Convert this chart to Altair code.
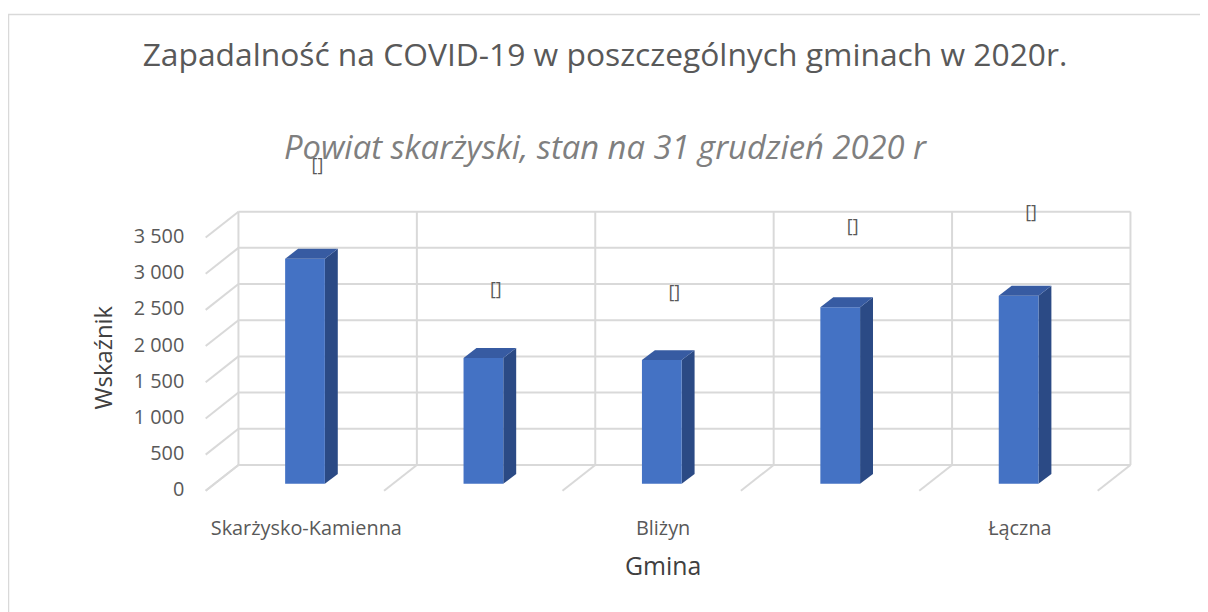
import json
import altair as alt
import pandas as pd

# ---- data ----
gminy = ["Skarżysko-Kamienna", "Suchedniów", "Bliżyn", "Skarżysko Kościelne", "Łączna"]
wskaznik = [3110, 1740, 1710, 2440, 2600]
etykiety = ["[]", "[]", "[]", "[]", "[]"]
y_ticks = [0, 500, 1000, 1500, 2000, 2500, 3000, 3500]
x_label_idx = [0, 2, 4]  # categories whose labels are visible

# ---- style constants ----
W, H = 898, 255
Y_MAX = 3500
N = len(gminy)
PX_X = W / N
PX_Y = H / Y_MAX
BAR_LEFT = 69 / PX_X
BAR_W = 40 / PX_X
DEPTH_X = 13 / PX_X
DEPTH_Y = 10 / PX_Y
WALL_DX, WALL_DY = 22, -19
FRONT_DX, FRONT_DY = -11, 7
LABEL_GAP_PX = 36          # label gap above bar grows with the 3D perspective
LABEL_GAP_SLOPE = 0.0183   # px of extra gap per unit of value

FRONT = "#4472C4"
SIDE = "#2B4A85"
TOP = "#375BA2"
GRID = "#D9D9D9"
FONT = "Open Sans"

# ---- tables built from the arrays ----
bars = pd.DataFrame({
    "gmina": gminy,
    "idx": range(N),
    "value": wskaznik,
    "label": etykiety,
})
bars["xl"] = bars["idx"] + BAR_LEFT
bars["xr"] = bars["xl"] + BAR_W
bars["xt"] = bars["xl"] + (BAR_W + DEPTH_X) / 2
bars["zero"] = 0
bars["label_y"] = bars["value"] + (LABEL_GAP_PX + LABEL_GAP_SLOPE * bars["value"]) / PX_Y

side_rows, top_rows = [], []
for _, r in bars.iterrows():
    side_rows.append({"g": r.gmina, "x": r.xr, "y": r.value, "y2": 0})
    side_rows.append({"g": r.gmina, "x": r.xr + DEPTH_X, "y": r.value + DEPTH_Y, "y2": DEPTH_Y})
    top_rows.append({"g": r.gmina, "y": r.value, "x": r.xl, "x2": r.xr})
    top_rows.append({"g": r.gmina, "y": r.value + DEPTH_Y, "x": r.xl + DEPTH_X, "x2": r.xr + DEPTH_X})
side = pd.DataFrame(side_rows)
top = pd.DataFrame(top_rows)

ticks = pd.DataFrame({"v": y_ticks})
bounds = pd.DataFrame({"b": list(range(N + 1))})

xs = alt.Scale(domain=[0, N], nice=False, zero=False)
ys = alt.Scale(domain=[0, Y_MAX], nice=False, zero=True)

x_expr = json.dumps(gminy, ensure_ascii=False) + "[floor(datum.value)]"

axis_x = alt.Axis(
    values=[i + 0.5 for i in x_label_idx], labelExpr=x_expr, title="Gmina",
    domain=False, ticks=False, tickSize=0, grid=False, labelPadding=35,
    labelFont=FONT, labelFontSize=20, labelColor="#595959", labelOverlap=False,
    labelLimit=400,
    titleFont=FONT, titleFontSize=25, titleFontWeight="normal", titleColor="#404040",
    titlePadding=16, labelAngle=0,
)
axis_y = alt.Axis(
    values=y_ticks,
    labelExpr="replace(format(datum.value, ','), ',', ' ')",
    title="Wskaźnik", domain=False, ticks=False, tickSize=0, grid=False,
    labelPadding=33, labelOffset=6, labelFont=FONT, labelFontSize=20, labelColor="#595959",
    labelOverlap=False,
    titleFont=FONT, titleFontSize=24, titleFontWeight="normal", titleColor="#404040",
    titlePadding=17,
)


def X(field, **kw):
    return alt.X(field, scale=xs, axis=axis_x, **kw)


def Y(field, **kw):
    return alt.Y(field, scale=ys, axis=axis_y, **kw)


rule_back = dict(color=GRID, strokeWidth=2, xOffset=WALL_DX, x2Offset=WALL_DX,
                 yOffset=WALL_DY, y2Offset=WALL_DY)
rule_diag = dict(color=GRID, strokeWidth=2, xOffset=FRONT_DX, yOffset=FRONT_DY,
                 x2Offset=WALL_DX, y2Offset=WALL_DY)

# back wall horizontal gridlines
back_h = alt.Chart(ticks).mark_rule(**rule_back).encode(
    y=Y("v:Q"), x=alt.value(0), x2=alt.value(W),
)
# back wall vertical lines
back_v = alt.Chart(bounds).mark_rule(**rule_back).encode(
    x=X("b:Q"), y=alt.value(0), y2=alt.value(H),
)
# floor diagonals
floor = alt.Chart(bounds).mark_rule(**rule_diag).encode(
    x=X("b:Q"), x2="b:Q", y=alt.value(H), y2=alt.value(H),
)
# left wall diagonals
left_wall = alt.Chart(ticks).mark_rule(**rule_diag).encode(
    y=Y("v:Q"), y2="v:Q", x=alt.value(0), x2=alt.value(0),
)

front = alt.Chart(bars).mark_rect(color=FRONT).encode(
    x=X("xl:Q"), x2="xr:Q", y=Y("value:Q"), y2="zero:Q",
)
side_face = alt.Chart(side).mark_area(color=SIDE).encode(
    x=X("x:Q"), y=Y("y:Q", stack=None), y2="y2:Q", detail="g:N",
)
top_face = alt.Chart(top).mark_area(color=TOP, orient="horizontal").encode(
    y=Y("y:Q"), x=X("x:Q", stack=None), x2="x2:Q", detail="g:N",
)
labels = alt.Chart(bars).mark_text(
    dx=6, font=FONT, fontSize=18, color="#595959"
).encode(
    x=X("xt:Q"), y=Y("label_y:Q"), text="label:N",
)
border = alt.Chart(bars.head(1)).mark_rect(
    filled=False, stroke=GRID, strokeWidth=1.5
).encode(
    x=alt.value(-209.5), x2=alt.value(1300), y=alt.value(-217.5), y2=alt.value(700),
)

chart = alt.layer(
    border, back_h, back_v, floor, left_wall, side_face, front, top_face, labels
).properties(
    width=W, height=H,
    padding={"left": 210, "top": 222, "right": 92, "bottom": 127},
    autosize=alt.AutoSizeParams(type="none"),
    title=alt.TitleParams(
        text="Zapadalność na COVID-19 w poszczególnych gminach w 2020r.",
        subtitle="Powiat skarżyski, stan na 31 grudzień 2020 r",
        anchor="middle", dx=-58, offset=-154,
        font=FONT, fontSize=32, fontWeight="normal", color="#595959",
        subtitleFont=FONT, subtitleFontSize=33, subtitleFontStyle="italic",
        subtitleColor="#7F7F7F", subtitlePadding=60,
    ),
).configure_view(stroke=None)

chart.save("out.html", embed_options={"renderer": "svg", "actions": False})
